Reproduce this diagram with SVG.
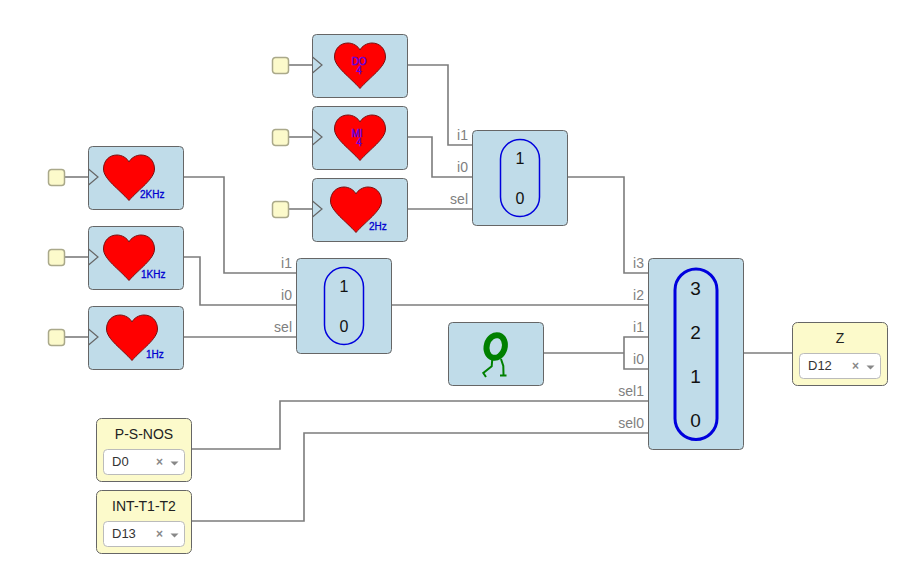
<svg xmlns="http://www.w3.org/2000/svg" width="915" height="573" viewBox="0 0 915 573">
<style>
text{font-family:"Liberation Sans",Arial,sans-serif}
.w{fill:none;stroke:#7c7c7c;stroke-width:1.6}
.b{fill:#c0dce9;stroke:#666;stroke-width:1}
.y{fill:#fcfacb;stroke:#666;stroke-width:1}
.k{fill:#fcfacb;stroke:#aaa98a;stroke-width:1.5}
.c{fill:none;stroke:#666;stroke-width:1.2}
.h{fill:#f00;stroke:#7a1010;stroke-width:1}
.l{font-size:14px;fill:#808080;text-anchor:end}
.f{font-size:10px;fill:#0000d0;stroke:#0000d0;stroke-width:.3}
.m{font-size:10px;fill:#6000e0;stroke:#6000e0;stroke-width:.4;text-anchor:middle}
.d{font-size:16px;fill:#111;text-anchor:middle}
.D{font-size:19px;fill:#111;text-anchor:middle}
.t{font-size:14px;fill:#222;text-anchor:middle}
.s{fill:#fff;stroke:#bbb;stroke-width:1}
.v{font-size:13px;fill:#333}
.x{font-size:12px;font-weight:bold;fill:#888;text-anchor:middle}
.a{fill:#888}
.p{fill:none;stroke:#0000dd;stroke-width:1.5}
.g{fill:none;stroke:#008000;stroke-width:2}
</style>
<defs>
<path id="heart" class="h" d="M0,0C-2,-4 -7,-7 -12,-7C-20,-7 -25.500,-1 -25.500,7C-25.500,17 -10,27 0,38.500C10,27 25.500,17 25.500,7C25.500,-1 20,-7 12,-7C7,-7 2,-4 0,0Z"/>
<g id="clk"><line class="w" x1="16" y1="8" x2="40" y2="8"/><rect class="k" x="0.5" y="0.5" width="16" height="16" rx="3"/><polyline class="c" points="40.5,0 50,8 40.5,16"/></g>
<g id="sel"><rect class="s" x="0" y="0" width="81" height="25" rx="4"/><text class="x" x="56" y="16">×</text><path class="a" d="M67,12h8l-4,4z"/></g>
</defs>
<g id="connectors">
<path class="w" d="M408,65H448V145H472"/>
<path class="w" d="M408,137H432V177H472"/>
<path class="w" d="M408,209H472"/>
<path class="w" d="M184,177H224V273H296"/>
<path class="w" d="M184,257H200V305H296"/>
<path class="w" d="M184,337H296"/>
<path class="w" d="M568,177H624V273H648"/>
<path class="w" d="M392,305H648"/>
<path class="w" d="M544,353H624M648,337H624V369H648"/>
<path class="w" d="M192,449H280V401H648"/>
<path class="w" d="M192,521H304V433H648"/>
<path class="w" d="M744,353H792"/>
</g>
<g id="clk-do"><use href="#clk" x="272" y="57"/><rect class="b" x="312.5" y="34.5" width="95" height="63" rx="4"/><polyline class="c" points="312.5,57 322,65 312.5,73"/><use href="#heart" x="360" y="50"/><text class="m" x="359" y="65">DO</text><text class="m" x="359" y="74">4</text></g>
<g id="clk-mi"><use href="#clk" x="272" y="129"/><rect class="b" x="312.5" y="106.5" width="95" height="63" rx="4"/><polyline class="c" points="312.5,129 322,137 312.5,145"/><use href="#heart" x="360" y="122"/><text class="m" x="357" y="137">MI</text><text class="m" x="359" y="146">4</text></g>
<g id="clk-2hz"><use href="#clk" x="272" y="201"/><rect class="b" x="312.5" y="178.5" width="95" height="63" rx="4"/><polyline class="c" points="312.5,201 322,209 312.5,217"/><use href="#heart" x="356" y="194"/><text class="f" x="369" y="230">2Hz</text></g>
<g id="clk-2khz"><use href="#clk" x="48" y="169"/><rect class="b" x="88.5" y="146.5" width="95" height="63" rx="4"/><polyline class="c" points="88.5,169 98,177 88.5,185"/><use href="#heart" x="129" y="162"/><text class="f" x="140" y="198">2KHz</text></g>
<g id="clk-1khz"><use href="#clk" x="48" y="249"/><rect class="b" x="88.5" y="226.5" width="95" height="63" rx="4"/><polyline class="c" points="88.5,249 98,257 88.5,265"/><use href="#heart" x="129" y="242"/><text class="f" x="141" y="278">1KHz</text></g>
<g id="clk-1hz"><use href="#clk" x="48" y="329"/><rect class="b" x="88.5" y="306.5" width="95" height="63" rx="4"/><polyline class="c" points="88.5,329 98,337 88.5,345"/><use href="#heart" x="132" y="322"/><text class="f" x="146" y="358">1Hz</text></g>
<g id="mux-top"><rect class="b" x="472.5" y="130.5" width="95" height="95" rx="4"/><rect class="p" x="500.5" y="139.5" width="39" height="77" rx="19.5"/><text class="d" x="520" y="164">1</text><text class="d" x="520" y="204">0</text>
<text class="l" x="468" y="140">i1</text><text class="l" x="468" y="172">i0</text><text class="l" x="468" y="204">sel</text></g>
<g id="mux-left"><rect class="b" x="296.5" y="258.5" width="95" height="95" rx="4"/><rect class="p" x="324.5" y="267.5" width="39" height="77" rx="19.5"/><text class="d" x="344" y="292">1</text><text class="d" x="344" y="332">0</text>
<text class="l" x="292" y="268">i1</text><text class="l" x="292" y="300">i0</text><text class="l" x="292" y="332">sel</text></g>
<g id="mux-main"><rect class="b" x="648.5" y="258.5" width="95" height="191" rx="4"/><rect class="p" style="stroke-width:3" x="675" y="269" width="42" height="170.5" rx="21"/><text class="D" x="695.5" y="295">3</text><text class="D" x="695.5" y="339">2</text><text class="D" x="695.5" y="383">1</text><text class="D" x="695.5" y="427">0</text>
<text class="l" x="644" y="268">i3</text><text class="l" x="644" y="300">i2</text><text class="l" x="644" y="332">i1</text><text class="l" x="644" y="364">i0</text><text class="l" x="644" y="396">sel1</text><text class="l" x="644" y="428">sel0</text></g>
<g id="zero"><rect class="b" x="448.5" y="322.5" width="95" height="63" rx="4"/>
<ellipse cx="495.7" cy="346.5" rx="9" ry="11.5" transform="rotate(16 495.7 346.5)" fill="none" stroke="#008000" stroke-width="6"/>
<path class="g" d="M492.3,359L491.7,366.3L483.3,373L486,377M501,359L503.3,366L503.5,374.5M500,375.5H506.500"/></g>
<g id="output-z"><rect class="y" x="792.5" y="322.5" width="95" height="63" rx="5"/><text class="t" x="840" y="343">Z</text><use href="#sel" x="799.5" y="353.5"/><text class="v" x="808" y="370">D12</text></g>
<g id="input-psnos"><rect class="y" x="96.5" y="418.5" width="95" height="63" rx="5"/><text class="t" x="144" y="439">P-S-NOS</text><use href="#sel" x="103.5" y="449.5"/><text class="v" x="112" y="466">D0</text></g>
<g id="input-int"><rect class="y" x="96.5" y="490.5" width="95" height="63" rx="5"/><text class="t" x="144" y="511">INT-T1-T2</text><use href="#sel" x="103.5" y="521.5"/><text class="v" x="112" y="538">D13</text></g>
</svg>
